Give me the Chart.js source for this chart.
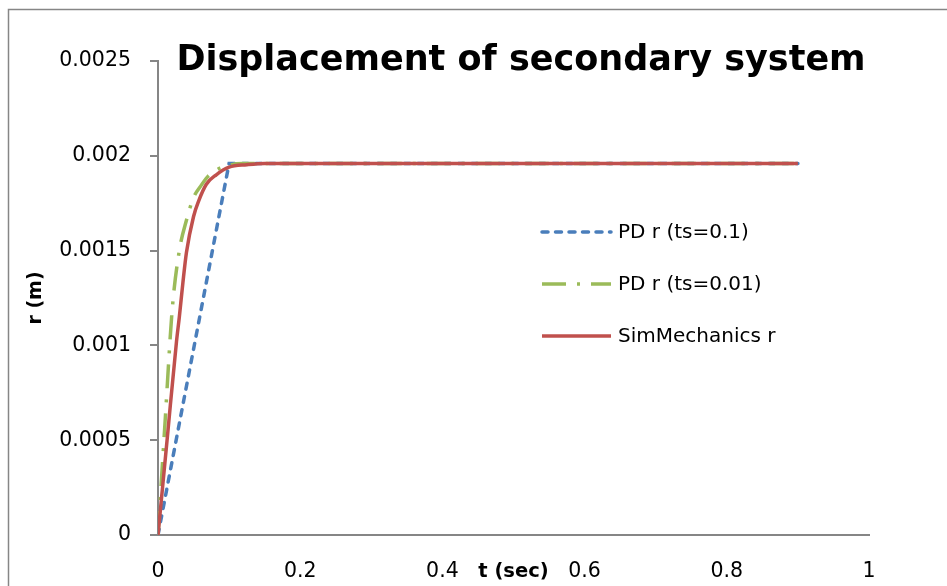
<!DOCTYPE html>
<html>
<head>
<meta charset="utf-8">
<script src="https://cdn.jsdelivr.net/npm/chart.js@4.4.1/dist/chart.umd.min.js"></script>
<style>
  html, body { margin: 0; padding: 0; background: #fff; }
  canvas { display: block; }
</style>
</head>
<body>
<canvas id="dispChart" width="947" height="586"></canvas>
<script>
// values
var tBlue = [0, 0.1, 0.2, 0.3, 0.4, 0.5, 0.6, 0.7, 0.8, 0.9];
var rBlue = [0, 0.00196, 0.00196, 0.00196, 0.00196, 0.00196, 0.00196, 0.00196, 0.00196, 0.00196];

var tGreen = [0, 0.01, 0.02, 0.03, 0.04, 0.05, 0.06, 0.07, 0.08, 0.09, 0.1, 0.11, 0.12, 0.2, 0.3, 0.4, 0.5, 0.6, 0.7, 0.8, 0.9];
var rGreen = [0, 0.0006, 0.00119, 0.0015, 0.00166, 0.00178, 0.00184, 0.00189, 0.00192, 0.00194, 0.00195, 0.001958, 0.00196,
  0.00196, 0.00196, 0.00196, 0.00196, 0.00196, 0.00196, 0.00196, 0.00196];

var tRed = [0, 0.013, 0.026, 0.03, 0.035, 0.04, 0.05, 0.057, 0.068, 0.082, 0.1, 0.125, 0.15, 0.2, 0.3, 0.4, 0.5, 0.6, 0.7, 0.8, 0.9];
var rRed = [0, 0.00051, 0.00102, 0.00115, 0.00133, 0.00149, 0.00168, 0.00176, 0.00185, 0.0019, 0.00194, 0.001953, 0.00196,
  0.00196, 0.00196, 0.00196, 0.00196, 0.00196, 0.00196, 0.00196, 0.00196];

var seriesNames = ["PD r (ts=0.1)", "PD r (ts=0.01)", "SimMechanics r"];
var xTickLabels = ["0", "0.2", "0.4", "0.6", "0.8", "1"];
var yTickLabels = ["0", "0.0005", "0.001", "0.0015", "0.002", "0.0025"];
var chartTitle = "Displacement of secondary system";
var xTitle = "t (sec)";
var yTitle = "r (m)";

var AXIS_GRAY = "#868686";
var FONT = "'DejaVu Sans', sans-serif";

function toPoints(xs, ys) {
  return xs.map(function (x, i) { return { x: x, y: ys[i] }; });
}

// outer frame of the chart box
var framePlugin = {
  id: "frame",
  beforeDraw: function (chart) {
    var ctx = chart.ctx;
    ctx.save();
    ctx.strokeStyle = AXIS_GRAY;
    ctx.lineWidth = 1.5;
    ctx.beginPath();
    ctx.moveTo(8.5, chart.height + 5);
    ctx.lineTo(8.5, 9.5);
    ctx.lineTo(chart.width + 5, 9.5);
    ctx.stroke();
    ctx.restore();
  }
};

// title sits over the top of the plot, legend inside the plot on the right
var overlayPlugin = {
  id: "overlay",
  afterDraw: function (chart) {
    var ctx = chart.ctx;
    ctx.save();
    ctx.fillStyle = "#000";
    ctx.font = "bold 35px " + FONT;
    ctx.textAlign = "center";
    ctx.textBaseline = "alphabetic";
    ctx.fillText(chartTitle, 521, 69.5);

    var rows = [232, 284, 336];
    ctx.font = "20px " + FONT;
    ctx.textAlign = "left";
    ctx.textBaseline = "middle";
    chart.data.datasets.forEach(function (ds, i) {
      var y = rows[i];
      ctx.save();
      ctx.strokeStyle = ds.borderColor;
      ctx.lineWidth = ds.borderWidth;
      ctx.lineCap = ds.borderCapStyle || "butt";
      ctx.setLineDash(ds.borderDash || []);
      ctx.beginPath();
      ctx.moveTo(542, y);
      ctx.lineTo(611, y);
      ctx.stroke();
      ctx.restore();
      ctx.fillText(ds.label, 618, y + 1);
    });
    ctx.restore();
  }
};

var datasets = [
  {
    label: seriesNames[0],
    data: toPoints(tBlue, rBlue),
    borderColor: "#4a7ebb",
    borderWidth: 3.5,
    borderDash: [6, 7.5],
    borderCapStyle: "round",
    tension: 0,
    pointRadius: 0,
    order: 2
  },
  {
    label: seriesNames[1],
    data: toPoints(tGreen, rGreen),
    borderColor: "#9bbb59",
    borderWidth: 3.5,
    borderDash: [24, 11, 3, 11],
    cubicInterpolationMode: "monotone",
    pointRadius: 0,
    order: 1
  },
  {
    label: seriesNames[2],
    data: toPoints(tRed, rRed),
    borderColor: "#c0504d",
    borderWidth: 3.5,
    cubicInterpolationMode: "monotone",
    pointRadius: 0,
    order: 0
  }
];

Chart.defaults.font.family = FONT;
Chart.defaults.color = "#000";

new Chart(document.getElementById("dispChart").getContext("2d"), {
  type: "line",
  data: { datasets: datasets },
  options: {
    responsive: false,
    animation: false,
    layout: { padding: { top: 61, right: 78, bottom: 0, left: 0 } },
    plugins: {
      legend: { display: false },
      tooltip: { enabled: false }
    },
    scales: {
      x: {
        type: "linear",
        min: 0,
        max: 1,
        afterFit: function (scale) { scale.height = 51; },
        grid: { display: false },
        border: { display: true, color: AXIS_GRAY, width: 2 },
        ticks: {
          stepSize: 0.2,
          padding: 16,
          maxRotation: 0,
          font: { size: 20.5 },
          callback: function (value, index) { return xTickLabels[index]; }
        },
        title: {
          display: true,
          text: xTitle,
          font: { size: 19.5, weight: "bold" },
          padding: { top: 0, bottom: 2 }
        }
      },
      y: {
        type: "linear",
        min: 0,
        max: 0.0025,
        afterFit: function (scale) { scale.width = 158; },
        grid: {
          drawOnChartArea: false,
          drawTicks: true,
          tickLength: 8,
          color: AXIS_GRAY,
          lineWidth: 2
        },
        border: { display: true, color: AXIS_GRAY, width: 2 },
        ticks: {
          stepSize: 0.0005,
          padding: 19,
          font: { size: 20.5 },
          callback: function (value, index) { return yTickLabels[index]; }
        },
        title: {
          display: true,
          text: yTitle,
          font: { size: 19, weight: "bold" },
          padding: { top: 25, bottom: 0 }
        }
      }
    }
  },
  plugins: [framePlugin, overlayPlugin]
});
</script>
</body>
</html>
